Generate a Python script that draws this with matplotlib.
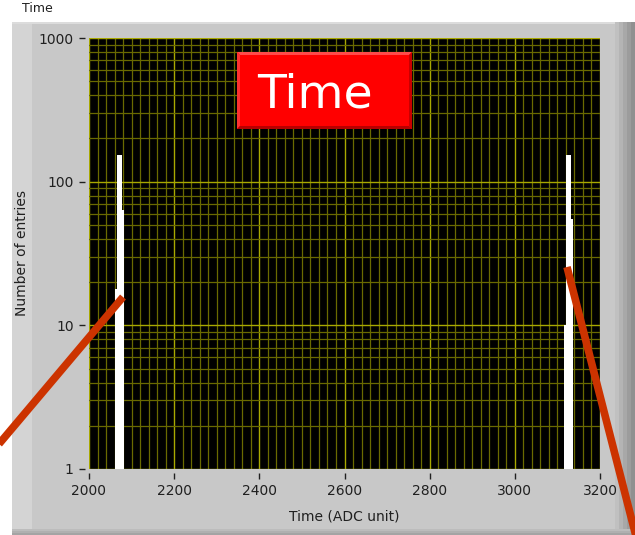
import matplotlib
matplotlib.use("Agg")
import matplotlib.pyplot as plt
import numpy as np
from matplotlib.patches import Rectangle, Polygon
from matplotlib.lines import Line2D
from matplotlib.ticker import MultipleLocator, LogLocator, NullFormatter, FixedLocator

# Histogram data: two peaks (bin edges in ADC units, counts per bin)
left_edges = [2062, 2066, 2078, 2082]
left_counts = [18, 153, 63]
right_edges = [3116, 3120, 3132, 3136]
right_counts = [10, 153, 55]

x_ticks = [2000, 2200, 2400, 2600, 2800, 3000, 3200]
y_ticks = [1, 10, 100, 1000]
y_tick_labels = ["1", "10", "100", "1000"]

W, H = 635, 535
fig = plt.figure(figsize=(W / 100, H / 100), dpi=100)
fig.patch.set_facecolor("white")


def fx(x):
    return x / W


def fy(y):
    return 1 - y / H


def rect_px(x0, y0, x1, y1, color, z):
    r = Rectangle((fx(x0), fy(y1)), fx(x1) - fx(x0), fy(y0) - fy(y1),
                  transform=fig.transFigure, facecolor=color,
                  edgecolor="none", zorder=z)
    fig.add_artist(r)
    return r


def poly_px(pts, color, z):
    p = Polygon([(fx(a), fy(b)) for a, b in pts], closed=True,
                transform=fig.transFigure, facecolor=color,
                edgecolor="none", zorder=z)
    fig.add_artist(p)


# Grey front-panel frame
rect_px(12, 22, 635, 535, "#c8c8c8", -10)
rect_px(12, 22, 32, 535, "#d4d4d4", -9)
rect_px(12, 22, 635, 24, "#dcdcdc", -9)
for i, c in enumerate(["#c0c0c0", "#b4b4b4", "#a8a8a8", "#9c9c9c", "#909090"]):
    rect_px(615 + i * 4, 22, 619 + i * 4, 535, c, -8)
for i, c in enumerate(["#bcbcbc", "#b0b0b0", "#a4a4a4"]):
    rect_px(12, 529 + i * 2, 635, 531 + i * 2, c, -8)

fig.text(fx(22), fy(9), "Time", fontsize=9, color="#202020",
         ha="left", va="center")

# Plot area
ax = fig.add_axes([fx(89), fy(469), fx(600) - fx(89), fy(38) - fy(469)])
ax.set_facecolor("black")
ax.set_yscale("log")
ax.set_xlim(2000, 3200)
ax.set_ylim(1, 1000)

ax.stairs(left_counts, left_edges, fill=True, baseline=1e-3,
          color="white", zorder=3)
ax.stairs(right_counts, right_edges, fill=True, baseline=1e-3,
          color="white", zorder=3)

ax.xaxis.set_major_locator(FixedLocator(x_ticks))
ax.xaxis.set_minor_locator(MultipleLocator(20))
ax.yaxis.set_major_locator(FixedLocator(y_ticks))
ax.set_yticklabels(y_tick_labels)
ax.yaxis.set_minor_locator(LogLocator(base=10, subs=np.arange(2, 10)))
ax.yaxis.set_minor_formatter(NullFormatter())

ax.set_axisbelow(True)
ax.grid(which="major", color="#a8a800", linewidth=1.0)
ax.grid(which="minor", color="#6a6a00", linewidth=0.9)

for s in ax.spines.values():
    s.set_visible(False)
ax.spines["left"].set_position(("outward", 3))
ax.spines["bottom"].set_position(("outward", 3))
ax.tick_params(which="major", direction="out", length=4, width=1,
               color="#202020", labelsize=10, labelcolor="#202020", pad=4)
ax.tick_params(which="minor", length=0)

fig.text(fx(344.5), fy(517), "Time (ADC unit)", fontsize=10,
         color="#202020", ha="center", va="center")
fig.text(fx(22), fy(253), "Number of entries", fontsize=10,
         color="#202020", ha="center", va="center", rotation=90)

# Red title badge with bevelled edges
bx0, by0, bx1, by1 = 237, 52, 412, 129
rect_px(bx0, by0, bx1, by1, "#ff0000", 5)
poly_px([(bx0, by0), (bx1, by0), (bx1 - 3, by0 + 3), (bx0 + 3, by0 + 3)], "#ff4a4a", 6)
poly_px([(bx0, by0), (bx0 + 3, by0 + 3), (bx0 + 3, by1 - 3), (bx0, by1)], "#ff3030", 6)
poly_px([(bx0, by1), (bx0 + 3, by1 - 3), (bx1 - 3, by1 - 3), (bx1, by1)], "#b80000", 6)
poly_px([(bx1, by0), (bx1, by1), (bx1 - 3, by1 - 3), (bx1 - 3, by0 + 3)], "#c80000", 6)
fig.text(fx(315), fy(108), "Time", fontsize=34, color="white",
         ha="center", va="baseline", zorder=7)

# Pointer lines towards the two peaks
fig.add_artist(Line2D([fx(-12), fx(123)], [fy(457), fy(297)],
                      transform=fig.transFigure, color="#cc3300",
                      linewidth=5.5, solid_capstyle="butt", zorder=8))
fig.add_artist(Line2D([fx(567), fx(640)], [fy(267), fy(552)],
                      transform=fig.transFigure, color="#cc3300",
                      linewidth=5.5, solid_capstyle="butt", zorder=8))

fig.savefig("out.png", dpi=100)
